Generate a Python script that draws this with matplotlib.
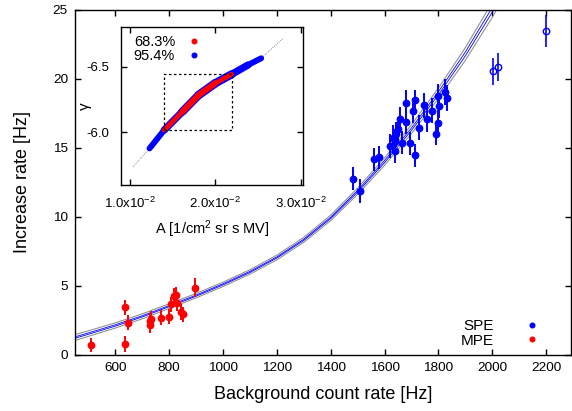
import matplotlib
matplotlib.use("Agg")
import matplotlib.pyplot as plt
import numpy as np
from matplotlib.collections import LineCollection
from matplotlib.lines import Line2D
from matplotlib.patches import Rectangle

plt.rcParams["font.family"] = ["Liberation Sans", "DejaVu Sans"]
plt.rcParams["mathtext.fontset"] = "custom"
plt.rcParams["mathtext.rm"] = "Liberation Sans"
plt.rcParams["mathtext.it"] = "Liberation Sans:italic"

# SPE: background rate [Hz], increase rate [Hz], error
spe_x = [1483, 1510, 1562, 1579, 1622, 1631, 1637, 1638, 1643, 1649, 1658, 1665, 1679, 1680,
         1693, 1706, 1712, 1712, 1728, 1746, 1758, 1777, 1791, 1797, 1797, 1803, 1826, 1831]
spe_y = [12.76, 11.86, 14.16, 14.30, 15.13, 15.74, 15.50, 14.77, 15.98, 16.34, 17.07, 15.37, 18.28, 16.87,
         15.32, 17.70, 18.47, 14.45, 16.46, 18.09, 17.07, 17.68, 16.03, 16.83, 18.76, 18.04, 19.02, 18.62]
spe_err = [0.85, 0.85, 0.85, 0.85, 0.9, 0.9, 0.85, 0.85, 0.9, 0.9, 0.9, 0.85, 0.9, 0.9,
           0.85, 0.9, 0.75, 0.85, 0.9, 0.9, 0.9, 0.9, 0.85, 0.9, 0.9, 0.9, 0.95, 0.95]

# SPE points excluded from fit (open symbols)
spe_out_x = [2001, 2020, 2199]
spe_out_y = [20.54, 20.87, 23.49]
spe_out_err = [1.0, 1.0, 1.15]

# MPE
mpe_x = [510, 637, 637, 646, 727, 729, 732, 769, 801, 807, 819, 826, 830, 843, 851, 896]
mpe_y = [0.71, 3.45, 0.77, 2.33, 2.15, 2.45, 2.60, 2.67, 2.76, 3.66, 4.24, 4.30, 3.74, 3.10, 2.92, 4.86]
mpe_err = [0.5, 0.55, 0.55, 0.55, 0.55, 0.55, 0.55, 0.55, 0.55, 0.55, 0.6, 0.6, 0.55, 0.55, 0.55, 0.7]

# fitted curve and confidence bands (half widths)
curve_x = [450, 500, 600, 700, 800, 900, 1000, 1100, 1200, 1300, 1400, 1500, 1600, 1700,
           1800, 1900, 2000, 2050]
curve_y = [1.24, 1.53, 2.12, 2.78, 3.52, 4.28, 5.10, 6.00, 7.05, 8.33, 9.92, 11.85, 14.00, 16.35,
           18.95, 21.80, 25.0, 26.8]
band95 = [0.21, 0.20, 0.19, 0.18, 0.17, 0.16, 0.16, 0.16, 0.17, 0.18, 0.20, 0.23, 0.27, 0.32,
          0.38, 0.46, 0.55, 0.60]
band68 = [0.05, 0.05, 0.05, 0.045, 0.04, 0.04, 0.04, 0.04, 0.04, 0.045, 0.05, 0.06, 0.08, 0.09,
          0.11, 0.14, 0.17, 0.18]

# inset: parameter scan (A, gamma) centre line
scan_A = [0.01038, 0.01231, 0.01404, 0.01615, 0.01807, 0.02000, 0.02192, 0.02384, 0.02538, 0.02788]
scan_g = [-5.738, -5.878, -6.018, -6.157, -6.284, -6.373, -6.441, -6.512, -6.563, -6.710]
blue_range = (1, 8)   # index range of 95.4% region
red_range = (2, 6)    # index range of 68.3% region
box_A = (0.014, 0.022)
box_g = (-6.02, -6.44)

fig = plt.figure(figsize=(5.72, 4.11), dpi=100)
ax = fig.add_axes([0.131, 0.137, 0.867, 0.839])

cx = np.array(curve_x)
cy = np.array(curve_y)
b95 = np.array(band95)
b68 = np.array(band68)
for off in (b95, -b95):
    ax.plot(cx, cy + off, color="#8c8c8c", lw=0.75, zorder=2)
for off in (b68, -b68):
    ax.plot(cx, cy + off, color="#0000ff", lw=0.6, zorder=2)

ax.errorbar(spe_x, spe_y, yerr=spe_err, fmt="o", color="#0000ff", ms=4.6,
            elinewidth=1.4, capsize=0, zorder=4)
ax.errorbar(spe_out_x, spe_out_y, yerr=spe_out_err, fmt="o", color="#0000ff", ms=4.6,
            mfc="none", mew=1.0, elinewidth=1.2, capsize=0, zorder=4)
ax.errorbar(mpe_x, mpe_y, yerr=mpe_err, fmt="o", color="#ff0000", ms=4.6,
            elinewidth=1.4, capsize=0, zorder=4)

ax.set_xlim(450, 2292)
ax.set_ylim(0, 25)
ax.set_xticks(range(600, 2201, 200))
ax.set_yticks(range(0, 26, 5))
ax.tick_params(direction="in", length=4, width=1, top=True, right=True, labelsize=9.7, pad=5)
for s in ax.spines.values():
    s.set_linewidth(1.0)
ax.set_xlabel("Background count rate [Hz]", fontsize=13, labelpad=9)
ax.set_ylabel("Increase rate [Hz]", fontsize=13, labelpad=16)

handles = [Line2D([], [], marker="o", ls="none", color="#0000ff", ms=3.3),
           Line2D([], [], marker="o", ls="none", color="#ff0000", ms=3.3)]
ax.legend(handles, ["SPE", "MPE"], loc="lower right", bbox_to_anchor=(0.97, -0.02),
          frameon=False, markerfirst=False, handlelength=1.4, handletextpad=1.8,
          labelspacing=0.05, fontsize=11)

# inset
ins = fig.add_axes([0.211, 0.550, 0.319, 0.384])
sA = np.array(scan_A)
sg = np.array(scan_g)
ins.plot(sA, sg, ls=(0, (1, 1.5)), color="#666666", lw=0.6, zorder=2)


def band(ax_, idx, width, color):
    i0, i1 = idx
    pts = np.column_stack([sA[i0:i1 + 1], sg[i0:i1 + 1]])
    segs = np.stack([pts[:-1], pts[1:]], axis=1)
    n = len(segs)
    t = (np.arange(n) + 0.5) / n
    widths = width * (0.6 + 0.4 * np.sin(np.pi * t))
    ax_.add_collection(LineCollection(segs, linewidths=widths, colors=color,
                                      capstyle="round", joinstyle="round", zorder=3))


band(ins, blue_range, 6.2, "#0000ff")
band(ins, red_range, 4.6, "#ff0000")
ins.add_patch(Rectangle((box_A[0], box_g[0]), box_A[1] - box_A[0], box_g[1] - box_g[0],
                        fill=False, ls=(0, (2, 2)), lw=0.9, color="black", zorder=4))

ins.set_xlim(0.00893, 0.0303)
ins.set_ylim(-5.6, -6.8)
ins.set_xticks([0.01, 0.02, 0.03])
ins.set_xticklabels([r"1.0x10$^{\mathregular{-2}}$", r"2.0x10$^{\mathregular{-2}}$",
                     r"3.0x10$^{\mathregular{-2}}$"])
ins.set_yticks([-6.5, -6.0])
ins.set_yticklabels(["-6.5", "-6.0"])
ins.tick_params(direction="in", length=4, width=1, top=True, right=True, labelsize=9.5, pad=8)
for s in ins.spines.values():
    s.set_linewidth(1.0)
ins.set_xlabel(r"A [1/cm$^{\mathregular{2}}$ sr s MV]", fontsize=10.5, labelpad=5)
ins.set_ylabel("γ", fontsize=11)
ins.yaxis.set_label_coords(-0.155, 0.5)

ihandles = [Line2D([], [], marker="o", ls="none", color="#ff0000", ms=3.3),
            Line2D([], [], marker="o", ls="none", color="#0000ff", ms=3.3)]
ins.legend(ihandles, ["68.3%", "95.4%"], loc="upper left", bbox_to_anchor=(0.0, 1.035),
           frameon=False, markerfirst=False, handlelength=1.0, handletextpad=0.8,
           labelspacing=0.05, fontsize=10.5)

fig.savefig("out.png", dpi=100)
